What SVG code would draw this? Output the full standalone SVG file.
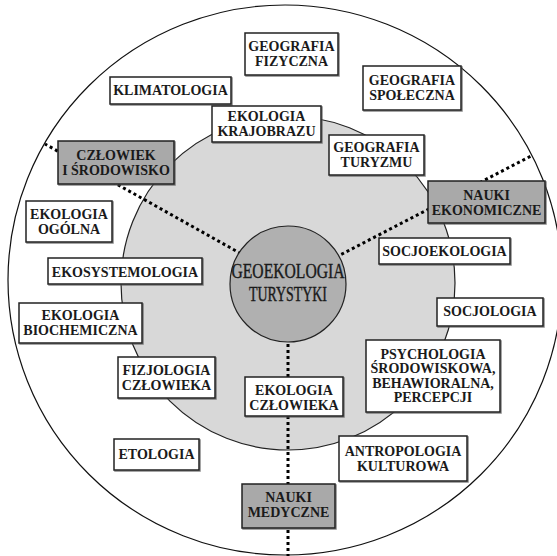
<svg xmlns="http://www.w3.org/2000/svg" width="557" height="556" viewBox="0 0 557 556">
<defs>
<filter id="sh" x="-10%" y="-10%" width="120%" height="130%">
<feDropShadow dx="1" dy="1" stdDeviation="0.6" flood-color="#555" flood-opacity="0.7"/>
</filter>
</defs>
<style>
.box{fill:#fff;stroke:#222;stroke-width:1.5;filter:url(#sh)}
.gbox{fill:#a9a9a9;stroke:#222;stroke-width:1.5;filter:url(#sh)}
.t{font-family:"Liberation Serif","Times New Roman",serif;font-weight:bold;font-size:14px;fill:#1a1a1a;text-anchor:middle}
.c{font-family:"Liberation Serif","Times New Roman",serif;font-size:20px;fill:#1a1a1a;stroke:#1a1a1a;stroke-width:0.4;text-anchor:middle}
.dot{stroke:#000;stroke-width:3;stroke-dasharray:3 3;fill:none}
</style>
<rect width="557" height="556" fill="#fff"/>
<ellipse id="outer" cx="285" cy="280" rx="277" ry="275" fill="#fff" stroke="#111" stroke-width="1.2"/>
<circle id="inner" cx="288" cy="283" r="167" fill="#d8d8d8" stroke="#222" stroke-width="1.2"/>
<g id="connectors">
<line class="dot" x1="288" y1="280" x2="45" y2="144"/>
<line class="dot" x1="288" y1="282" x2="533" y2="155"/>
<line class="dot" x1="288" y1="284" x2="288" y2="556"/>
</g>
<g id="center">
<circle cx="288" cy="284" r="58" fill="#b0b0b0" stroke="#222" stroke-width="1.2"/>
<text class="c" x="288" y="278" textLength="113" lengthAdjust="spacingAndGlyphs">GEOEKOLOGIA</text>
<text class="c" x="288" y="301" textLength="78" lengthAdjust="spacingAndGlyphs">TURYSTYKI</text>
</g>
<g id="geografia-fizyczna">
<rect class="box" x="245" y="33" width="93" height="42"/>
<text class="t" x="291.5" y="51">GEOGRAFIA</text>
<text class="t" x="291.5" y="66">FIZYCZNA</text>
</g>
<g id="klimatologia">
<rect class="box" x="110" y="77" width="121" height="27"/>
<text class="t" x="170.5" y="95">KLIMATOLOGIA</text>
</g>
<g id="geografia-spoleczna">
<rect class="box" x="363" y="66" width="98" height="44"/>
<text class="t" x="412" y="85">GEOGRAFIA</text>
<text class="t" x="412" y="100">SPOŁECZNA</text>
</g>
<g id="ekologia-krajobrazu">
<rect class="box" x="212" y="106" width="109" height="36"/>
<text class="t" x="266.5" y="121">EKOLOGIA</text>
<text class="t" x="266.5" y="136">KRAJOBRAZU</text>
</g>
<g id="geografia-turyzmu">
<rect class="box" x="329" y="135" width="95" height="40"/>
<text class="t" x="376.5" y="152">GEOGRAFIA</text>
<text class="t" x="376.5" y="167">TURYZMU</text>
</g>
<g id="czlowiek-i-srodowisko">
<rect class="gbox" x="58" y="141" width="116" height="43"/>
<text class="t" x="116" y="160">CZŁOWIEK</text>
<text class="t" x="116" y="175">I ŚRODOWISKO</text>
</g>
<g id="nauki-ekonomiczne">
<rect class="gbox" x="428" y="181" width="117" height="42"/>
<text class="t" x="486.5" y="200">NAUKI</text>
<text class="t" x="486.5" y="215">EKONOMICZNE</text>
</g>
<g id="ekologia-ogolna">
<rect class="box" x="26" y="201" width="86" height="41"/>
<text class="t" x="69" y="219">EKOLOGIA</text>
<text class="t" x="69" y="234">OGÓLNA</text>
</g>
<g id="socjoekologia">
<rect class="box" x="379" y="238" width="131" height="26"/>
<text class="t" x="444.5" y="256">SOCJOEKOLOGIA</text>
</g>
<g id="ekosystemologia">
<rect class="box" x="48" y="258" width="154" height="26"/>
<text class="t" x="125" y="277">EKOSYSTEMOLOGIA</text>
</g>
<g id="socjologia">
<rect class="box" x="437" y="298" width="106" height="28"/>
<text class="t" x="490" y="316">SOCJOLOGIA</text>
</g>
<g id="ekologia-biochemiczna">
<rect class="box" x="19" y="303" width="123" height="40"/>
<text class="t" x="80.5" y="320">EKOLOGIA</text>
<text class="t" x="80.5" y="335">BIOCHEMICZNA</text>
</g>
<g id="fizjologia-czlowieka">
<rect class="box" x="118" y="357" width="97" height="41"/>
<text class="t" x="166.5" y="375">FIZJOLOGIA</text>
<text class="t" x="166.5" y="390">CZŁOWIEKA</text>
</g>
<g id="psychologia">
<rect class="box" x="366" y="340" width="134" height="72"/>
<text class="t" x="433" y="359">PSYCHOLOGIA</text>
<text class="t" x="433" y="373">ŚRODOWISKOWA,</text>
<text class="t" x="433" y="388">BEHAWIORALNA,</text>
<text class="t" x="433" y="402">PERCEPCJI</text>
</g>
<g id="ekologia-czlowieka">
<rect class="box" x="245" y="377" width="98" height="39"/>
<text class="t" x="294" y="395">EKOLOGIA</text>
<text class="t" x="294" y="410">CZŁOWIEKA</text>
</g>
<g id="etologia">
<rect class="box" x="114" y="439" width="85" height="31"/>
<text class="t" x="156.5" y="459">ETOLOGIA</text>
</g>
<g id="antropologia-kulturowa">
<rect class="box" x="339" y="436" width="128" height="45"/>
<text class="t" x="403" y="456">ANTROPOLOGIA</text>
<text class="t" x="403" y="471">KULTUROWA</text>
</g>
<g id="nauki-medyczne">
<rect class="gbox" x="242" y="484" width="93" height="44"/>
<text class="t" x="288.5" y="502">NAUKI</text>
<text class="t" x="288.5" y="517">MEDYCZNE</text>
</g>
</svg>
